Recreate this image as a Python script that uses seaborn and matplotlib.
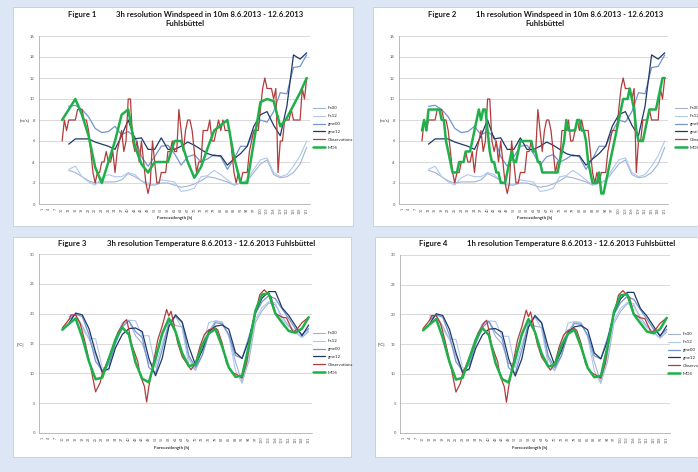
import numpy as np
import pandas as pd
import matplotlib
matplotlib.use("Agg")
import matplotlib.pyplot as plt
from matplotlib.patches import Rectangle
import seaborn as sns

sns.set_style("white")
plt.rcParams['font.family'] = ['Lato', 'DejaVu Sans']

# ---------------- data ----------------
hours_3h = list(range(10, 122, 3))          # 3-hourly forecast steps
hours_1h = list(range(10, 122))             # hourly steps
x_ticks = list(range(1, 122, 3))            # axis category labels

# Wind speed [m/s]
wind_ifs00 = [np.nan, 3.2, 3.0, 2.6, 2.2, 2.0, 2.1, 2.1, 2.1, 2.3, 2.9, 2.6, 2.2, 1.8, 1.8, 2.0, 2.0, 1.8, 1.6,
              1.7, 1.9, 2.2, 2.6, 2.5, 2.3, 2.1, 1.8, 2.0, 2.2, 3.0, 3.8, 4.2, 2.8, 2.5, 2.6, 3.0, 3.8, 5.4]
wind_ifs12 = [np.nan, 3.3, 3.6, 2.6, 2.1, 1.8, 2.5, 2.8, 2.6, 2.6, 3.0, 2.8, 2.2, 2.0, 1.8, 2.3, 2.2, 2.1, 1.2,
              1.3, 1.5, 2.6, 2.7, 3.2, 2.8, 2.3, 1.8, 2.0, 2.3, 3.3, 4.2, 4.4, 3.0, 2.6, 2.8, 3.6, 4.6, 6.0]
wind_gme00 = [np.nan, 9.3, 9.4, 9.0, 8.3, 7.2, 6.8, 6.9, 7.4, 6.6, 6.9, 6.4, 4.5, 3.6, 4.5, 5.5, 5.6, 4.8, 3.7,
              4.5, 4.7, 4.0, 4.3, 4.7, 4.5, 3.3, 4.3, 5.5, 5.5, 6.9, 8.0, 7.8, 8.8, 10.6, 10.5, 13.0, 13.1, 14.2]
wind_gme12 = [np.nan, 5.7, 6.2, 6.2, 6.2, 5.9, 5.7, 5.5, 5.2, 6.5, 8.0, 6.2, 6.3, 5.2, 5.2, 6.3, 5.2, 5.2, 5.5,
              5.9, 5.6, 5.2, 4.8, 4.6, 4.6, 3.7, 4.3, 4.8, 5.5, 7.4, 8.5, 8.8, 7.5, 6.5, 9.3, 14.2, 13.8, 14.4]
wind_mos_3h = [8, 9, 10, 8.5, 6.5, 3.5, 2, 4, 6, 8.5, 9, 5.5, 3.8, 3, 4, 4, 4, 6, 6, 4, 2.5, 3.5, 5.3, 7, 7.5,
               8, 4.5, 2, 2, 5.9, 9.7, 10, 9.8, 7.4, 8.2, 9.4, 10.6, 12]
wind_mos_1h = [7, 8, 7, 9, 9, 9, 9, 9, 9, 8,
               8, 6, 5, 4, 3, 3, 3, 4, 4, 4,
               5, 5, 5, 6, 7, 8, 9, 8, 9, 9,
               7, 5, 4, 4, 3, 3, 2, 2, 2, 3,
               4, 5, 4, 4, 5, 6, 6, 6, 6, 6,
               6, 5, 5, 4, 4, 3, 3, 3, 3, 3,
               3, 3, 3, 4, 5, 6, 8, 7, 7, 7,
               7, 8, 8, 7, 7, 6, 4, 3, 2, 2,
               2, 3, 1, 1, 2, 3, 4, 5, 6, 7,
               8, 9, 10, 10, 10, 11, 10, 9, 7, 6,
               6, 6, 7, 8, 9, 9, 9, 9, 10, 11,
               12, 12]
wind_obs = [6, 8, 7, 8, 8, 8, 8, 9, 9, 9,
            8, 8, 7, 5, 3, 2, 3, 3, 4, 4,
            5, 4, 4, 5, 3, 5, 6, 7, 5, 6,
            10, 10, 6, 5, 6, 4, 6, 4, 2, 1,
            2, 6, 4, 2, 2, 3, 3, 3, 5, 5,
            6, 5, 5, 9, 7, 5, 7, 8, 8, 7,
            5, 3, 4, 4, 7, 7, 7, 8, 6, 6,
            7, 8, 7, 8, 7, 7, 7, 5, 3, 2,
            3, 2, 3, 3, 3, 5, 6, 7, 7, 7,
            9, 11, 12, 11, 11, 11, 10, 11, 3, 6,
            6, 8, 8, 8, 9, 8, 8, 8, 8, 11,
            10, 12]

# Temperature [°C]
temp_ifs00 = [np.nan, 19.5, 19.8, 18.0, 15.8, 13.0, 10.0, 12.0, 16.0, 18.3, 18.8, 16.3, 15.0, 11.7, 11.7, 17.0,
              19.0, 18.0, 17.8, 12.5, 10.5, 13.0, 17.0, 18.8, 18.6, 16.3, 12.0, 8.5, 12.0, 18.5, 20.5, 21.8,
              21.5, 19.5, 18.0, 17.0, 16.0, 17.0]
temp_ifs12 = [np.nan, 19.8, 19.8, 17.5, 15.8, 15.8, 11.0, 10.5, 15.5, 18.5, 18.9, 18.8, 16.3, 16.3, 11.0, 15.0,
              18.0, 19.5, 17.5, 11.5, 10.5, 14.5, 18.5, 18.8, 18.5, 16.3, 10.5, 8.3, 13.0, 19.0, 21.0, 22.0,
              21.8, 19.0, 17.8, 16.8, 16.0, 17.3]
temp_gme00 = [np.nan, 19.0, 19.9, 19.5, 16.5, 12.0, 10.5, 11.5, 15.0, 17.8, 18.8, 17.0, 16.0, 11.0, 10.0, 14.0,
              18.5, 19.6, 18.5, 13.0, 11.0, 13.0, 16.5, 18.5, 18.3, 16.5, 13.0, 12.5, 16.0, 20.0, 22.0, 23.0,
              22.5, 20.8, 19.2, 17.5, 16.5, 17.5]
temp_gme12 = [np.nan, 18.4, 20.1, 19.8, 17.5, 13.5, 10.2, 10.8, 14.3, 16.5, 17.5, 17.6, 17.0, 12.5, 9.6, 12.5,
              17.8, 19.8, 18.6, 14.5, 11.4, 13.8, 17.0, 17.9, 18.1, 17.4, 13.5, 12.5, 15.5, 20.2, 22.6, 23.7,
              23.7, 21.0, 19.7, 18.0, 16.3, 18.1]
temp_mos = [17.3, 18.3, 19.2, 16.0, 12.0, 9.0, 9.3, 12.5, 15.7, 17.7, 16.5, 11.8, 9.1, 8.5, 12.5, 16.6, 19.2,
            17.0, 13.4, 11.2, 11.5, 14.7, 16.7, 17.4, 14.5, 11.0, 9.4, 9.6, 14.5, 20.5, 23.2, 23.4, 20.0, 18.5,
            17.1, 16.8, 17.5, 19.4]
temp_obs_hours = [10, 13, 14, 16, 18, 20, 22, 23, 25, 27, 28, 30, 33, 35, 38, 39, 40, 41, 44, 45,
                  47, 48, 49, 51, 53, 55, 57, 58, 59, 60, 62, 64, 66, 68, 70, 72, 74, 76, 79, 80,
                  82, 84, 86, 87, 90, 91, 93, 95, 97, 99, 101, 103, 104, 106, 108, 109, 111, 114, 116, 118, 121]
temp_obs = [17.6, 19.0, 19.8, 19.8, 18.4, 15.6, 12.3, 10.6, 6.9, 8.4, 10.0, 11.7, 14.5, 16.8, 18.7, 19.0, 17.3,
            15.1, 12.0, 9.8, 7.8, 5.2, 7.8, 11.7, 15.6, 17.9, 20.7, 19.6, 20.4, 18.7, 15.1, 12.8, 11.7, 10.6,
            11.7, 14.5, 16.5, 17.3, 17.6, 17.3, 15.1, 11.7, 10.3, 10.1, 9.5, 9.2, 11.7, 16.2, 20.1, 23.2, 24.0,
            23.2, 22.9, 20.1, 19.6, 19.4, 19.3, 16.9, 17.5, 18.5, 19.4]

series_names = ["ifs00", "ifs12", "gme00", "gme12", "Observations", "MOS"]
colors = {"ifs00": "#a3b3cf", "ifs12": "#afc8ee", "gme00": "#7495cf", "gme12": "#1e3868",
          "Observations": "#b23c3c", "MOS": "#1fb04a"}
widths = {"ifs00": 0.8, "ifs12": 0.8, "gme00": 0.9, "gme12": 0.9, "Observations": 0.9, "MOS": 1.8}

# ---------------- layout ----------------
W, H = 698, 472
fig = plt.figure(figsize=(W / 100, H / 100), dpi=100, facecolor="#dce6f4")


def frac_box(l, t, r, b):
    return [l / W, 1 - b / H, (r - l) / W, (b - t) / H]


for (l, t, r, b) in [(13, 7, 353, 226), (373, 7, 730, 226), (13, 237, 351, 457), (375, 237, 730, 457)]:
    fig.patches.append(Rectangle((l / W, 1 - b / H), (r - l) / W, (b - t) / H, transform=fig.transFigure,
                                 facecolor="white", edgecolor="#c3ccd8", lw=0.6, zorder=-10))


def ftext(x, y, s, **kw):
    fig.text(x / W, 1 - y / H, s, **kw)


def panel(box, data, ylim, yticks, legend_xy):
    ax = fig.add_axes(frac_box(*box))
    ax.set_zorder(5)
    ax.set_facecolor("none")
    for name in series_names:
        xs, ys = data[name]
        df = pd.DataFrame({"h": xs, "v": ys}).dropna()
        sns.lineplot(data=df, x="h", y="v", ax=ax, color=colors[name], lw=widths[name],
                     label=name, estimator=None, sort=False)
    ax.set_xlim(-0.5, 122.5)
    ax.set_ylim(*ylim)
    ax.set_yticks(yticks)
    ax.set_yticklabels([str(v) for v in yticks])
    ax.set_xticks(x_ticks)
    ax.set_xticklabels([str(v) for v in x_ticks], rotation=90)
    ax.tick_params(axis="y", labelsize=3.0, labelcolor="#555555", length=1.5, width=0.4, pad=1.5,
                   color="#999999")
    ax.tick_params(axis="x", labelsize=2.7, labelcolor="#555555", length=1.5, width=0.4, pad=1,
                   color="#999999")
    ax.grid(axis="y", color="#d9d9d9", lw=0.7)
    ax.set_axisbelow(True)
    for s in ["top", "right"]:
        ax.spines[s].set_visible(False)
    for s in ["left", "bottom"]:
        ax.spines[s].set_color("#a0a0a0")
        ax.spines[s].set_linewidth(0.5)
    ax.set_xlabel("")
    ax.set_ylabel("")
    h, lab = ax.get_legend_handles_labels()
    ax.legend(h, lab, loc="center left", bbox_to_anchor=(legend_xy[0] / W, 1 - legend_xy[1] / H),
              bbox_transform=fig.transFigure, frameon=False, fontsize=3.2, handlelength=2.8,
              handletextpad=0.6, labelspacing=0.85, borderaxespad=0, borderpad=0)
    return ax


wind3 = {"ifs00": (hours_3h, wind_ifs00), "ifs12": (hours_3h, wind_ifs12), "gme00": (hours_3h, wind_gme00),
         "gme12": (hours_3h, wind_gme12), "Observations": (hours_1h, wind_obs), "MOS": (hours_3h, wind_mos_3h)}
wind1 = dict(wind3)
wind1["MOS"] = (hours_1h, wind_mos_1h)
temp = {"ifs00": (hours_3h, temp_ifs00), "ifs12": (hours_3h, temp_ifs12), "gme00": (hours_3h, temp_gme00),
        "gme12": (hours_3h, temp_gme12), "Observations": (temp_obs_hours, temp_obs), "MOS": (hours_3h, temp_mos)}

wy = list(range(0, 17, 2))
ty = list(range(0, 31, 5))
panel((39, 36, 310, 204), wind3, (0, 16), wy, (313, 128))
panel((399, 36, 668, 204), wind1, (0, 16), wy, (675, 128))
panel((39, 254, 312, 433), temp, (0, 30), ty, (313, 353))
panel((400, 255, 670, 433), temp, (0, 30), ty, (668, 354))

tkw = dict(fontsize=5.6, fontweight="bold", color="#1a1a1a", va="center")
ftext(68, 15, "Figure 1", ha="left", **tkw)
ftext(303, 15, "3h resolution Windspeed in 10m 8.6.2013 - 12.6.2013", ha="right", **tkw)
ftext(185, 24, "Fuhlsbüttel", ha="center", **tkw)
ftext(428, 15, "Figure 2", ha="left", **tkw)
ftext(663, 15, "1h resolution Windspeed in 10m 8.6.2013 - 12.6.2013", ha="right", **tkw)
ftext(545, 24, "Fuhlsbüttel", ha="center", **tkw)
ftext(58, 244, "Figure 3", ha="left", **tkw)
ftext(315, 244, "3h resolution Temperature 8.6.2013 - 12.6.2013 Fuhlsbüttel", ha="right", **tkw)
ftext(419, 244, "Figure 4", ha="left", **tkw)
ftext(675, 244, "1h resolution Temperature 8.6.2013 - 12.6.2013 Fuhlsbüttel", ha="right", **tkw)

lkw = dict(fontsize=3.2, color="#333333", va="center")
ftext(25, 120, "[m/s]", ha="center", **lkw)
ftext(385, 120, "[m/s]", ha="center", **lkw)
ftext(20, 344, "[°C]", ha="center", **lkw)
ftext(381, 344, "[°C]", ha="center", **lkw)
xkw = dict(fontsize=3.2, color="#333333", va="center", ha="center", fontweight="bold")
ftext(175, 218, "Forecastlength [h]", **xkw)
ftext(535, 218, "Forecastlength [h]", **xkw)
ftext(172, 448, "Forecastlength [h]", **xkw)
ftext(530, 448, "Forecastlength [h]", **xkw)

fig.savefig("out.png", dpi=100, facecolor=fig.get_facecolor())
